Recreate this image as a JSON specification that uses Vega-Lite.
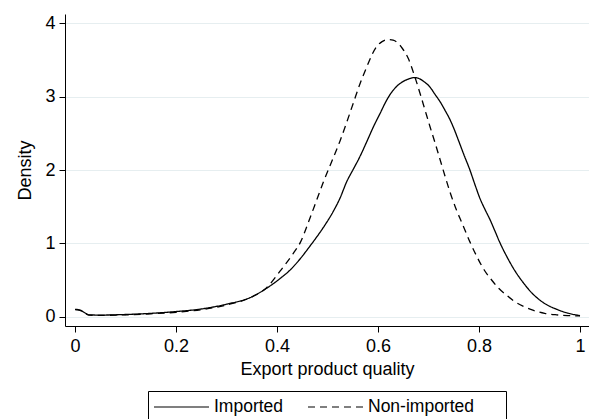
{
  "$schema": "https://vega.github.io/schema/vega-lite/v6.json",
  "width": 524,
  "height": 312,
  "autosize": "none",
  "padding": {"left": 65, "top": 14, "right": 0, "bottom": 93},
  "background": "white",
  "config": {
    "view": {"stroke": null},
    "font": "Liberation Sans",
    "axis": {
      "domainColor": "black",
      "domainWidth": 1,
      "tickColor": "black",
      "tickSize": 6,
      "tickWidth": 1,
      "labelFontSize": 18,
      "titleFontSize": 18,
      "labelColor": "black",
      "titleColor": "black",
      "titleFontWeight": "normal",
      "labelFont": "Liberation Sans",
      "titleFont": "Liberation Sans"
    }
  },
  "data": {
    "values": [
      {"quality": 0.000, "density": 0.10, "group": "Imported"},
      {"quality": 0.010, "density": 0.09, "group": "Imported"},
      {"quality": 0.020, "density": 0.05, "group": "Imported"},
      {"quality": 0.028, "density": 0.025, "group": "Imported"},
      {"quality": 0.050, "density": 0.022, "group": "Imported"},
      {"quality": 0.100, "density": 0.03, "group": "Imported"},
      {"quality": 0.150, "density": 0.045, "group": "Imported"},
      {"quality": 0.200, "density": 0.07, "group": "Imported"},
      {"quality": 0.250, "density": 0.105, "group": "Imported"},
      {"quality": 0.300, "density": 0.17, "group": "Imported"},
      {"quality": 0.350, "density": 0.27, "group": "Imported"},
      {"quality": 0.380, "density": 0.39, "group": "Imported"},
      {"quality": 0.406, "density": 0.52, "group": "Imported"},
      {"quality": 0.425, "density": 0.63, "group": "Imported"},
      {"quality": 0.446, "density": 0.79, "group": "Imported"},
      {"quality": 0.465, "density": 0.96, "group": "Imported"},
      {"quality": 0.479, "density": 1.09, "group": "Imported"},
      {"quality": 0.495, "density": 1.25, "group": "Imported"},
      {"quality": 0.511, "density": 1.43, "group": "Imported"},
      {"quality": 0.525, "density": 1.62, "group": "Imported"},
      {"quality": 0.538, "density": 1.84, "group": "Imported"},
      {"quality": 0.551, "density": 2.01, "group": "Imported"},
      {"quality": 0.564, "density": 2.18, "group": "Imported"},
      {"quality": 0.578, "density": 2.39, "group": "Imported"},
      {"quality": 0.591, "density": 2.59, "group": "Imported"},
      {"quality": 0.604, "density": 2.77, "group": "Imported"},
      {"quality": 0.617, "density": 2.95, "group": "Imported"},
      {"quality": 0.627, "density": 3.06, "group": "Imported"},
      {"quality": 0.637, "density": 3.14, "group": "Imported"},
      {"quality": 0.648, "density": 3.20, "group": "Imported"},
      {"quality": 0.660, "density": 3.24, "group": "Imported"},
      {"quality": 0.671, "density": 3.26, "group": "Imported"},
      {"quality": 0.680, "density": 3.25, "group": "Imported"},
      {"quality": 0.690, "density": 3.21, "group": "Imported"},
      {"quality": 0.703, "density": 3.13, "group": "Imported"},
      {"quality": 0.713, "density": 3.03, "group": "Imported"},
      {"quality": 0.723, "density": 2.93, "group": "Imported"},
      {"quality": 0.733, "density": 2.81, "group": "Imported"},
      {"quality": 0.743, "density": 2.68, "group": "Imported"},
      {"quality": 0.750, "density": 2.57, "group": "Imported"},
      {"quality": 0.759, "density": 2.41, "group": "Imported"},
      {"quality": 0.770, "density": 2.21, "group": "Imported"},
      {"quality": 0.782, "density": 2.00, "group": "Imported"},
      {"quality": 0.792, "density": 1.80, "group": "Imported"},
      {"quality": 0.802, "density": 1.61, "group": "Imported"},
      {"quality": 0.812, "density": 1.46, "group": "Imported"},
      {"quality": 0.822, "density": 1.32, "group": "Imported"},
      {"quality": 0.832, "density": 1.16, "group": "Imported"},
      {"quality": 0.842, "density": 1.00, "group": "Imported"},
      {"quality": 0.855, "density": 0.82, "group": "Imported"},
      {"quality": 0.868, "density": 0.66, "group": "Imported"},
      {"quality": 0.888, "density": 0.46, "group": "Imported"},
      {"quality": 0.908, "density": 0.30, "group": "Imported"},
      {"quality": 0.930, "density": 0.18, "group": "Imported"},
      {"quality": 0.954, "density": 0.10, "group": "Imported"},
      {"quality": 0.975, "density": 0.05, "group": "Imported"},
      {"quality": 1.000, "density": 0.015, "group": "Imported"},
      {"quality": 0.000, "density": 0.095, "group": "Non-imported"},
      {"quality": 0.010, "density": 0.085, "group": "Non-imported"},
      {"quality": 0.020, "density": 0.045, "group": "Non-imported"},
      {"quality": 0.028, "density": 0.02, "group": "Non-imported"},
      {"quality": 0.050, "density": 0.018, "group": "Non-imported"},
      {"quality": 0.100, "density": 0.025, "group": "Non-imported"},
      {"quality": 0.150, "density": 0.04, "group": "Non-imported"},
      {"quality": 0.200, "density": 0.06, "group": "Non-imported"},
      {"quality": 0.250, "density": 0.095, "group": "Non-imported"},
      {"quality": 0.300, "density": 0.16, "group": "Non-imported"},
      {"quality": 0.350, "density": 0.27, "group": "Non-imported"},
      {"quality": 0.380, "density": 0.40, "group": "Non-imported"},
      {"quality": 0.406, "density": 0.62, "group": "Non-imported"},
      {"quality": 0.432, "density": 0.86, "group": "Non-imported"},
      {"quality": 0.446, "density": 1.01, "group": "Non-imported"},
      {"quality": 0.465, "density": 1.34, "group": "Non-imported"},
      {"quality": 0.478, "density": 1.58, "group": "Non-imported"},
      {"quality": 0.492, "density": 1.84, "group": "Non-imported"},
      {"quality": 0.508, "density": 2.11, "group": "Non-imported"},
      {"quality": 0.525, "density": 2.40, "group": "Non-imported"},
      {"quality": 0.538, "density": 2.65, "group": "Non-imported"},
      {"quality": 0.551, "density": 2.91, "group": "Non-imported"},
      {"quality": 0.564, "density": 3.17, "group": "Non-imported"},
      {"quality": 0.578, "density": 3.41, "group": "Non-imported"},
      {"quality": 0.588, "density": 3.57, "group": "Non-imported"},
      {"quality": 0.597, "density": 3.68, "group": "Non-imported"},
      {"quality": 0.608, "density": 3.75, "group": "Non-imported"},
      {"quality": 0.620, "density": 3.78, "group": "Non-imported"},
      {"quality": 0.630, "density": 3.77, "group": "Non-imported"},
      {"quality": 0.638, "density": 3.74, "group": "Non-imported"},
      {"quality": 0.648, "density": 3.66, "group": "Non-imported"},
      {"quality": 0.660, "density": 3.52, "group": "Non-imported"},
      {"quality": 0.672, "density": 3.29, "group": "Non-imported"},
      {"quality": 0.683, "density": 3.05, "group": "Non-imported"},
      {"quality": 0.693, "density": 2.82, "group": "Non-imported"},
      {"quality": 0.703, "density": 2.59, "group": "Non-imported"},
      {"quality": 0.713, "density": 2.37, "group": "Non-imported"},
      {"quality": 0.723, "density": 2.14, "group": "Non-imported"},
      {"quality": 0.733, "density": 1.91, "group": "Non-imported"},
      {"quality": 0.743, "density": 1.69, "group": "Non-imported"},
      {"quality": 0.755, "density": 1.46, "group": "Non-imported"},
      {"quality": 0.768, "density": 1.25, "group": "Non-imported"},
      {"quality": 0.782, "density": 1.02, "group": "Non-imported"},
      {"quality": 0.795, "density": 0.83, "group": "Non-imported"},
      {"quality": 0.810, "density": 0.64, "group": "Non-imported"},
      {"quality": 0.825, "density": 0.50, "group": "Non-imported"},
      {"quality": 0.840, "density": 0.38, "group": "Non-imported"},
      {"quality": 0.855, "density": 0.29, "group": "Non-imported"},
      {"quality": 0.870, "density": 0.21, "group": "Non-imported"},
      {"quality": 0.888, "density": 0.14, "group": "Non-imported"},
      {"quality": 0.908, "density": 0.085, "group": "Non-imported"},
      {"quality": 0.930, "density": 0.045, "group": "Non-imported"},
      {"quality": 0.954, "density": 0.025, "group": "Non-imported"},
      {"quality": 0.975, "density": 0.015, "group": "Non-imported"},
      {"quality": 1.000, "density": 0.01, "group": "Non-imported"}
    ]
  },
  "mark": {"type": "line", "interpolate": "monotone", "color": "black", "strokeWidth": 1.3},
  "encoding": {
    "x": {
      "field": "quality",
      "type": "quantitative",
      "scale": {"domain": [-0.0198, 1.0178], "nice": false, "zero": false},
      "axis": {
        "values": [0, 0.2, 0.4, 0.6, 0.8, 1],
        "format": "~g",
        "title": "Export product quality",
        "grid": false,
        "labelPadding": 5,
        "titlePadding": 5
      }
    },
    "y": {
      "field": "density",
      "type": "quantitative",
      "scale": {"domain": [-0.127, 4.127], "nice": false, "zero": false},
      "axis": {
        "values": [0, 1, 2, 3, 4],
        "title": "Density",
        "grid": true,
        "gridColor": "#e6eef0",
        "gridWidth": 1,
        "labelAngle": 0,
        "labelPadding": 4,
        "titlePadding": 10
      }
    },
    "strokeDash": {
      "field": "group",
      "type": "nominal",
      "scale": {"domain": ["Imported", "Non-imported"], "range": [[1, 0], [7, 5]]},
      "legend": {
        "title": null,
        "orient": "none",
        "legendX": 83,
        "legendY": 377,
        "direction": "horizontal",
        "strokeColor": "black",
        "fillColor": "white",
        "padding": 5,
        "cornerRadius": 0,
        "symbolType": "stroke",
        "symbolSize": 3025,
        "symbolStrokeWidth": 1.2,
        "symbolStrokeColor": "black",
        "labelFontSize": 17.5,
        "labelColor": "black",
        "labelFont": "Liberation Sans",
        "labelOffset": 4,
        "columnPadding": 23,
        "clipHeight": 22,
        "labelExpr": "datum.label == 'Non-imported' ? 'Non-imported\u2800\u2800' : datum.label"
      }
    }
  }
}
